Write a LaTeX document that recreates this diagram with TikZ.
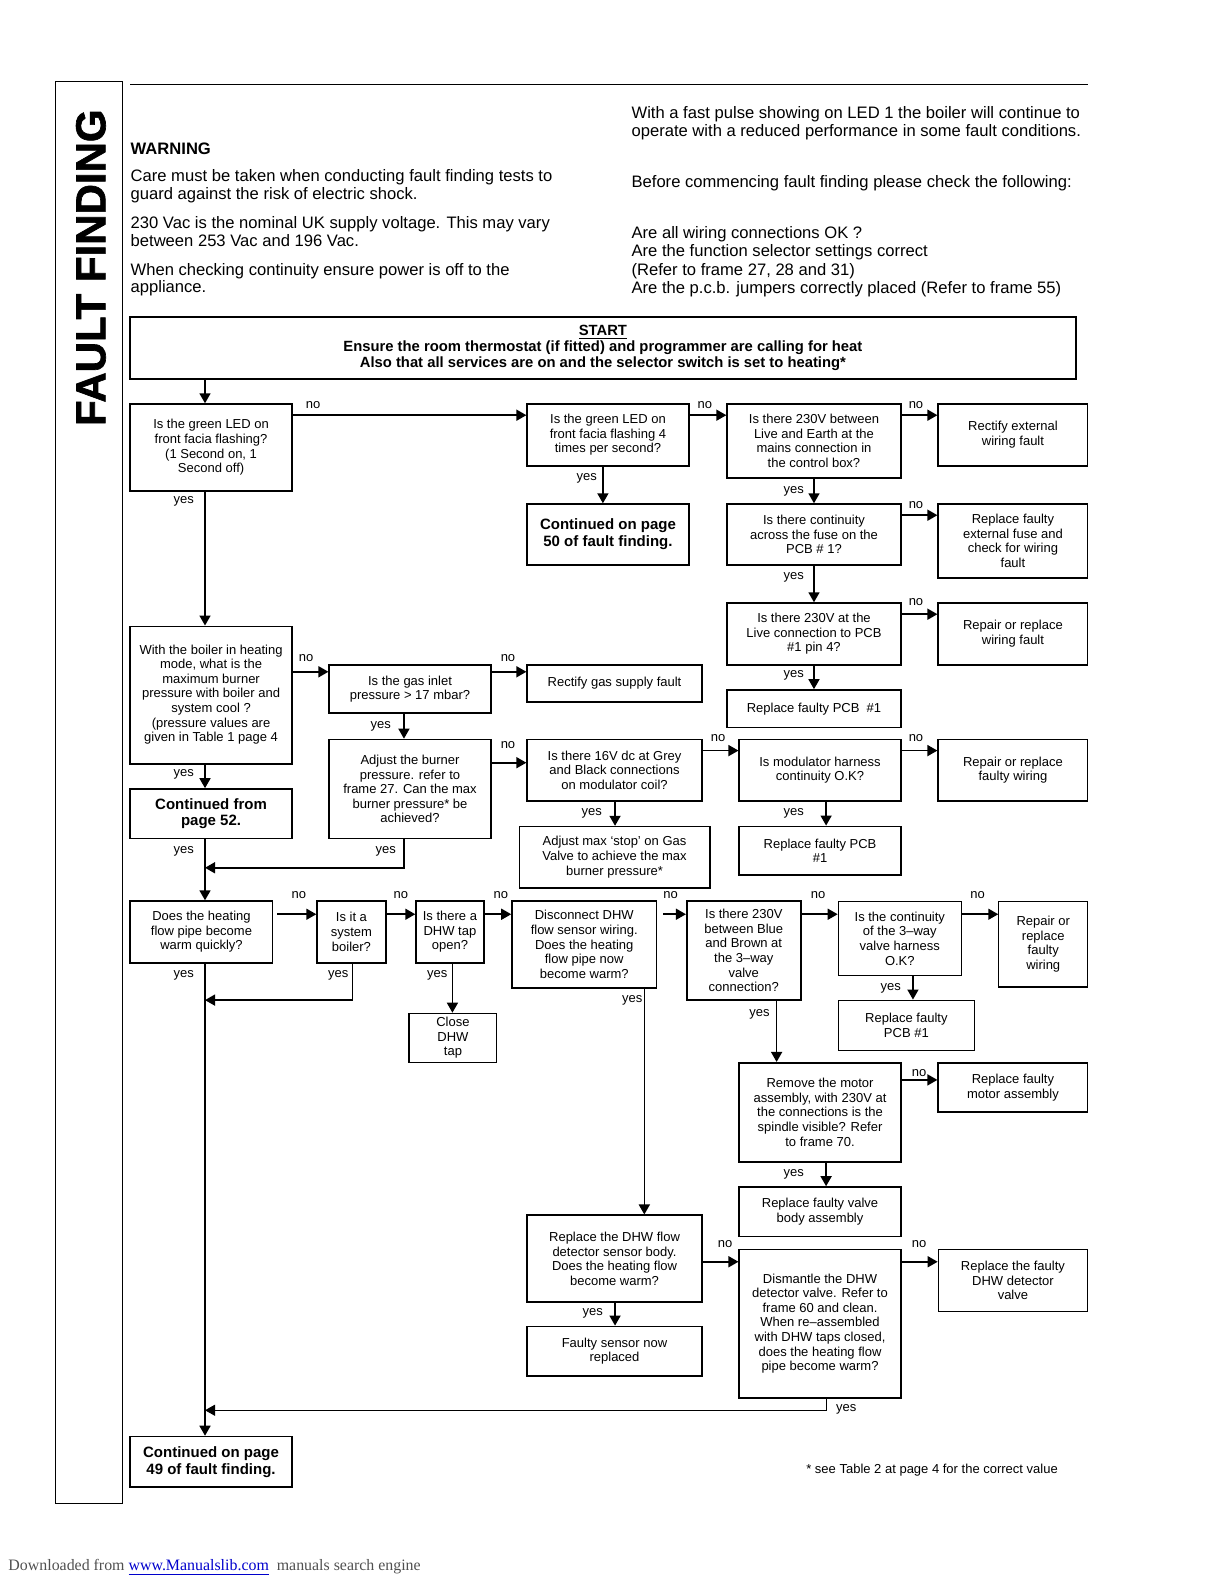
\documentclass[tikz,border=0pt]{standalone}
\usepackage{fontspec}
\setmainfont{Liberation Sans}
\newfontfamily\serifft{Liberation Serif}
\newfontfamily\titlefont[FakeBold=1.6]{Liberation Sans Bold}
\usetikzlibrary{arrows.meta}
\definecolor{footgray}{RGB}{80,80,80}
\definecolor{linkblue}{RGB}{0,0,204}
\newcommand{\mkbox}[7][box]{\node[#1, minimum width={(#5-#3)*0.50495pt}, minimum height={(#6-#4)*0.5051pt}] (#2) at ({(#3+#5)/2},{(#4+#6)/2}) {#7};}
\newcommand{\upt}[2]{\raisebox{#1}{\begin{tabular}{@{}c@{}}#2\end{tabular}}}
\begin{document}
\begin{tikzpicture}[x=0.50495pt,y=-0.5051pt,
  box/.style={draw, line width=0.8pt, align=center, inner sep=1pt, font=\fontsize{6.5}{7.3}\selectfont},
  tbox/.style={box, line width=0.55pt},
  bbox/.style={box, font=\bfseries\fontsize{7.5}{8.4}\selectfont},
  sbox/.style={box, line width=1pt, font=\bfseries\fontsize{7.4}{8.1}\selectfont},
  lbl/.style={inner sep=0pt, font=\fontsize{6.5}{7.3}\selectfont},
  hdr/.style={anchor=base west, inner sep=0pt, font=\fontsize{8.3}{9}\selectfont},
  arr/.style={-{Triangle[length=5pt,width=5.5pt]}, line width=0.8pt},
  thinline/.style={line width=0.55pt}]
\useasboundingbox (0,0) rectangle (1212,1568);

% sidebar
\node[draw, line width=0.6pt, minimum width={66*0.50495pt}, minimum height={1407*0.5051pt}, inner sep=0pt] (side) at (88,784.5) {};
\node[rotate=90, inner sep=0pt, font=\titlefont\fontsize{21}{21}\selectfont] (title) at (90,265) {FAULT FINDING};
\coordinate (tl) at (129,84);
\coordinate (tr) at (1077,84);
\draw[line width=0.6pt] (tl) -- (tr);

% header texts
\node[hdr, font=\bfseries\fontsize{8.3}{9}\selectfont] (h0) at (129,152.5) {WARNING};
\node[hdr] (h1) at (129,180) {Care must be taken when conducting fault finding tests to};
\node[hdr] (h2) at (129,197.5) {guard against the risk of electric shock.};
\node[hdr] (h3) at (129,226) {230 Vac is the nominal UK supply voltage. This may vary};
\node[hdr] (h4) at (129,243.6) {between 253 Vac and 196 Vac.};
\node[hdr] (h5) at (129,272.3) {When checking continuity ensure power is off to the};
\node[hdr] (h6) at (129,289.8) {appliance.};
\node[hdr] (r1) at (625,117.2) {With a fast pulse showing on LED 1 the boiler will continue to};
\node[hdr] (r2) at (625,134.7) {operate with a reduced performance in some fault conditions.};
\node[hdr] (r3) at (625,185.5) {Before commencing fault finding please check the following:};
\node[hdr] (r4) at (625,236) {Are all wiring connections OK ?};
\node[hdr] (r5) at (625,253.5) {Are the function selector settings correct};
\node[hdr] (r6) at (625,272.3) {(Refer to frame 27, 28 and 31)};
\node[hdr] (r7) at (625,291) {Are the p.c.b. jumpers correctly placed (Refer to frame 55)};

% boxes
\mkbox[sbox]{start}{129}{314}{1065}{375}{\underline{START}\\Ensure the room thermostat (if fitted) and programmer are calling for heat\\Also that all services are on and the selector switch is set to heating*}
\mkbox{b1}{129}{400}{289}{486}{Is the green LED on\\front facia flashing?\\(1 Second on, 1\\Second off)}
\mkbox{b2}{522}{400}{682}{461}{Is the green LED on\\front facia flashing 4\\times per second?}
\mkbox[bbox]{c50}{522}{499}{682}{559}{Continued on page\\50 of fault finding.}
\mkbox{b3}{720}{400}{892}{473}{Is there 230V between\\Live and Earth at the\\mains connection in\\the control box?}
\mkbox{rext}{929}{400}{1077}{461}{Rectify external\\wiring fault}
\mkbox{b4}{720}{499}{892}{559}{Is there continuity\\across the fuse on the\\PCB \# 1?}
\mkbox{rfuse}{929}{499}{1077}{572}{Replace faulty\\external fuse and\\check for wiring\\fault}
\mkbox{b5}{720}{597}{892}{658}{Is there 230V at the\\Live connection to PCB\\\#1 pin 4?}
\mkbox{rwire}{929}{597}{1077}{658}{Repair or replace\\wiring fault}
\mkbox{pcb1}{720}{683}{892}{720}{Replace faulty PCB\ \ \#1}
\mkbox{boiler}{129}{620}{289}{756}{\upt{3.5pt}{With the boiler in heating\\mode, what is the\\maximum burner\\pressure with boiler and\\system cool ?\\(pressure values are\\given in Table 1 page 4}}
\mkbox{gas}{326}{658}{486}{706}{Is the gas inlet\\pressure > 17 mbar?}
\mkbox{rgas}{522}{658}{695}{695}{Rectify gas supply fault}
\mkbox[bbox]{cfrom}{129}{781}{289}{830}{Continued from\\page 52.}
\mkbox{adjust}{326}{732}{486}{830}{Adjust the burner\\pressure. refer to\\frame 27. Can the max\\burner pressure* be\\achieved?}
\mkbox{v16}{522}{732}{695}{793}{Is there 16V dc at Grey\\and Black connections\\on modulator coil?}
\mkbox[tbox]{adjmax}{514}{818}{703}{879}{Adjust max `stop' on Gas\\Valve to achieve the max\\burner pressure*}
\mkbox{modh}{732}{732}{892}{793}{Is modulator harness\\continuity O.K?}
\mkbox{rfw}{929}{732}{1077}{793}{Repair or replace\\faulty wiring}
\mkbox{pcb2}{732}{818}{892}{866}{Replace faulty PCB\\\#1}
\mkbox{heat}{129}{892}{270}{953}{Does the heating\\flow pipe become\\warm quickly?}
\mkbox{sys}{314}{892}{382}{953}{Is it a\\system\\boiler?}
\mkbox{tap}{412}{892}{479}{953}{Is there a\\DHW tap\\open?}
\mkbox[tbox]{close}{405}{1003}{492}{1052}{Close\\DHW\\tap}
\mkbox{disc}{507}{892}{650}{978}{Disconnect DHW\\flow sensor wiring.\\Does the heating\\flow pipe now\\become warm?}
\mkbox{v3}{680}{892}{793}{990}{Is there 230V\\between Blue\\and Brown at\\the 3–way\\valve\\connection?}
\mkbox[tbox]{cont3}{830}{892}{952}{966}{Is the continuity\\of the 3–way\\valve harness\\O.K?}
\mkbox[tbox]{rorw}{989}{892}{1077}{977}{Repair or\\replace\\faulty\\wiring}
\mkbox[tbox]{pcb3}{830}{990}{965}{1040}{Replace faulty\\PCB \#1}
\mkbox{motor}{732}{1052}{892}{1150}{Remove the motor\\assembly, with 230V at\\the connections is the\\spindle visible? Refer\\to frame 70.}
\mkbox{rmotor}{929}{1052}{1077}{1101}{Replace faulty\\motor assembly}
\mkbox{rvalve}{732}{1175}{892}{1224}{Replace faulty valve\\body assembly}
\mkbox{rdhw}{522}{1203}{695}{1289}{Replace the DHW flow\\detector sensor body.\\Does the heating flow\\become warm?}
\mkbox{faulty}{522}{1313}{695}{1362}{Faulty sensor now\\replaced}
\mkbox{dism}{732}{1237}{892}{1384}{\upt{4pt}{Dismantle the DHW\\detector valve. Refer to\\frame 60 and clean.\\When re–assembled\\with DHW taps closed,\\does the heating flow\\pipe become warm?}}
\mkbox[tbox]{rdet}{929}{1237}{1077}{1298}{Replace the faulty\\DHW detector\\valve}
\mkbox[bbox]{c49}{129}{1422}{289}{1472}{Continued on page\\49 of fault finding.}

% connectors
\draw[arr] (start.south -| 203,0) -- (b1.north -| 203,0);
\draw[arr] (b1.east |- 0,411) -- (b2.west |- 0,411);
\draw[arr] (b2.east |- 0,411) -- (b3.west |- 0,411);
\draw[arr] (b3.east |- 0,411) -- (rext.west |- 0,411);
\draw[arr] (b2.south -| 597,0) -- (c50.north -| 597,0);
\draw[arr] (b3.south -| 806,0) -- (b4.north -| 806,0);
\draw[arr] (b4.east |- 0,510) -- (rfuse.west |- 0,510);
\draw[arr] (b4.south -| 806,0) -- (b5.north -| 806,0);
\draw[arr] (b5.east |- 0,608) -- (rwire.west |- 0,608);
\draw[arr] (b5.south -| 806,0) -- (pcb1.north -| 806,0);
\draw[arr] (b1.south -| 203,0) -- (boiler.north -| 203,0);
\draw[arr] (boiler.east |- 0,665) -- (gas.west |- 0,665);
\draw[arr] (gas.east |- 0,665) -- (rgas.west |- 0,665);
\draw[arr] (gas.south -| 400,0) -- (adjust.north -| 400,0);
\draw[arr] (boiler.south -| 203,0) -- (cfrom.north -| 203,0);
\draw[arr] (adjust.east |- 0,755) -- (v16.west |- 0,755);
\draw[arr] (v16.east |- 0,743) -- (modh.west |- 0,743);
\draw[arr] (modh.east |- 0,743) -- (rfw.west |- 0,743);
\draw[arr] (v16.south -| 609,0) -- (adjmax.north -| 609,0);
\draw[arr] (modh.south -| 818,0) -- (pcb2.north -| 818,0);
\draw[arr] (cfrom.south -| 203,0) -- (heat.north -| 203,0);
\coordinate (j1) at (203,859);
\draw[arr] (adjust.south -| 400,0) |- (j1);
\draw[arr, shorten <=2pt] (heat.east |- 0,905) -- (sys.west |- 0,905);
\draw[arr] (sys.east |- 0,905) -- (tap.west |- 0,905);
\draw[arr] (tap.east |- 0,905) -- (disc.west |- 0,905);
\draw[arr, shorten <=3pt] (disc.east |- 0,905) -- (v3.west |- 0,905);
\draw[arr] (v3.east |- 0,905) -- (cont3.west |- 0,905);
\draw[arr] (cont3.east |- 0,905) -- (rorw.west |- 0,905);
\draw[arr] (heat.south -| 203,0) -- (c49.north -| 203,0);
\coordinate (j2) at (203,990);
\draw[arr] (sys.south -| 349,0) |- (j2);
\draw[arr] (tap.south -| 448,0) -- (close.north -| 448,0);
\draw[arr] (disc.south -| 638,0) -- (rdhw.north -| 638,0);
\draw[arr] (v3.south -| 769,0) -- (motor.north -| 769,0);
\draw[arr] (cont3.south -| 904,0) -- (pcb3.north -| 904,0);
\draw[arr] (motor.east |- 0,1069) -- (rmotor.west |- 0,1069);
\draw[arr] (motor.south -| 818,0) -- (rvalve.north -| 818,0);
\draw[arr] (rdhw.east |- 0,1249) -- (dism.west |- 0,1249);
\draw[arr] (rdhw.south -| 609,0) -- (faulty.north -| 609,0);
\draw[arr] (dism.east |- 0,1249) -- (rdet.west |- 0,1249);
\coordinate (j3) at (203,1396);
\draw[arr, thinline] (dism.south -| 818,0) |- (j3);

% labels
\node[lbl] (n1) at (310,401) {no};
\node[lbl] (n2) at (698,401) {no};
\node[lbl] (n3) at (907,401) {no};
\node[lbl] (n4) at (907,500) {no};
\node[lbl] (n5) at (907,596) {no};
\node[lbl] (n6) at (303,651) {no};
\node[lbl] (n7) at (503,651) {no};
\node[lbl] (n8) at (503,738) {no};
\node[lbl] (n9) at (711,731) {no};
\node[lbl] (n10) at (907,731) {no};
\node[lbl] (n11) at (296,886) {no};
\node[lbl] (n12) at (397,886) {no};
\node[lbl] (n13) at (496,886) {no};
\node[lbl] (n14) at (664,886) {no};
\node[lbl] (n15) at (810,886) {no};
\node[lbl] (n16) at (968,886) {no};
\node[lbl] (n17) at (910,1062) {no};
\node[lbl] (n18) at (718,1231) {no};
\node[lbl] (n19) at (910,1231) {no};
\node[lbl] (y1) at (182,496) {yes};
\node[lbl] (y2) at (581,474) {yes};
\node[lbl] (y3) at (786,486) {yes};
\node[lbl] (y4) at (786,572) {yes};
\node[lbl] (y5) at (786,669) {yes};
\node[lbl] (y6) at (182,767) {yes};
\node[lbl] (y7) at (377,719) {yes};
\node[lbl] (y8) at (182,843) {yes};
\node[lbl] (y9) at (382,843) {yes};
\node[lbl] (y10) at (586,805) {yes};
\node[lbl] (y11) at (786,805) {yes};
\node[lbl] (y12) at (182,965) {yes};
\node[lbl] (y13) at (335,965) {yes};
\node[lbl] (y14) at (433,965) {yes};
\node[lbl] (y15) at (626,990) {yes};
\node[lbl] (y16) at (752,1004) {yes};
\node[lbl] (y17) at (882,978) {yes};
\node[lbl] (y18) at (786,1162) {yes};
\node[lbl] (y19) at (587,1300) {yes};
\node[lbl] (y20) at (838,1395) {yes};

% footnote and footer
\node[anchor=base west, inner sep=0pt, font=\fontsize{6.5}{7.3}\selectfont] (fn) at (798,1459) {* see Table 2 at page 4 for the correct value};
\node[anchor=base west, inner sep=0pt, text=footgray, font=\serifft\fontsize{7.95}{9}\selectfont] (foot) at (8,1555) {Downloaded from \textcolor{linkblue}{\underline{www.Manualslib.com}}\ \ manuals search engine};
\end{tikzpicture}
\end{document}
